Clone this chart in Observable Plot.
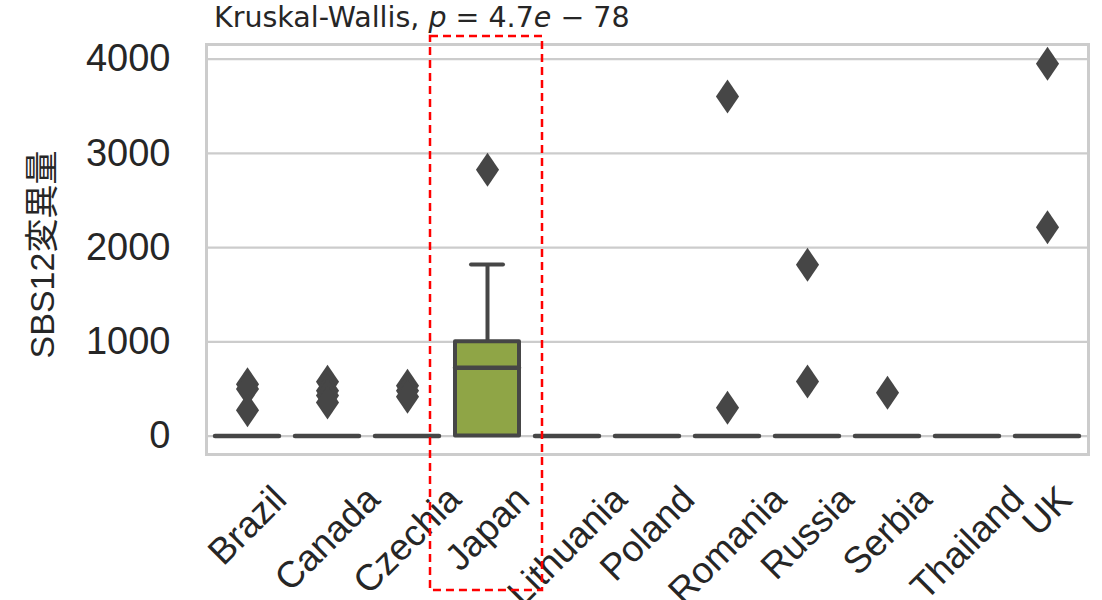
<!DOCTYPE html>
<html><head><meta charset="utf-8">
<script src="https://cdn.jsdelivr.net/npm/d3@7"></script>
<script src="https://cdn.jsdelivr.net/npm/@observablehq/plot@0.6"></script>
<style>
body{margin:0;background:#fff;}
#wrap{position:relative;width:1102px;height:600px;overflow:hidden;background:#fff;}
#title{position:absolute;left:214px;top:1px;font-family:"DejaVu Sans",sans-serif;font-size:28.5px;color:#262626;white-space:nowrap;z-index:2;}
#title i{font-style:italic;}
#chart{position:absolute;left:0;top:0;}
</style></head><body>
<div id="wrap"><div id="title">Kruskal-Wallis, <i>p</i> = 4.7<i>e</i> − 78</div><div id="chart"></div></div>
<script>
// ---- data ----
const countries = ["Brazil","Canada","Czechia","Japan","Lithuania","Poland","Romania","Russia","Serbia","Thailand","UK"];
const q1          = [0,0,0,0,   0,0,0,0,0,0,0];
const medians     = [0,0,0,724, 0,0,0,0,0,0,0];
const q3          = [0,0,0,1000,0,0,0,0,0,0,0];
const whiskerLow  = [0,0,0,0,   0,0,0,0,0,0,0];
const whiskerHigh = [0,0,0,1820,0,0,0,0,0,0,0];
const outlierCountry = ["Brazil","Brazil","Brazil","Canada","Canada","Canada","Canada","Czechia","Czechia","Czechia","Japan","Romania","Romania","Russia","Russia","Serbia","UK","UK"];
const outlierValue   = [550,500,274,575,480,430,356,533,480,416,2826,3604,299,1817,579,459,3951,2217];
const boxColors = ["#8fa546","#8fa546","#8fa546","#8fa546","#8fa546","#8fa546","#8fa546","#8fa546","#8fa546","#8fa546","#8fa546"];
const yTicks = [0,1000,2000,3000,4000];
const yLabel = "SBS12変異量";
const highlightCountry = "Japan";
const highlightRange = [-1640, 4240];

// ---- build tables ----
const boxes = countries.map((c,i)=>({country:c,q1:q1[i],median:medians[i],q3:q3[i],lo:whiskerLow[i],hi:whiskerHigh[i],color:boxColors[i]}));
const outliers = outlierCountry.map((c,i)=>({country:c,value:outlierValue[i]}));
const withWhisker = boxes.filter(d=>d.hi>d.q3);

const thinDiamond = {draw(ctx,size){const r=Math.sqrt(size/Math.PI);const w=r*0.68;ctx.moveTo(0,-r);ctx.lineTo(w,0);ctx.lineTo(0,r);ctx.lineTo(-w,0);ctx.closePath();}};

const dark = "#464646";
const xFont = 37;
const cv = document.createElement("canvas").getContext("2d");
cv.font = `${xFont}px "Liberation Sans"`;
const labelMarks = countries.map(c=>{
  const w = cv.measureText(c).width;
  const off = 25.5 + (w + xFont)*Math.SQRT1_2/2;
  return Plot.text([c],{x:d=>d,frameAnchor:"bottom",dy:off,rotate:-45,textAnchor:"middle",lineAnchor:"middle",fontSize:xFont,fill:"#262626"});
});

const chart = Plot.plot({
  width:1102, height:600,
  marginLeft:206, marginRight:14, marginTop:44, marginBottom:146,
  style:{fontFamily:'"Liberation Sans", Arial, sans-serif', color:"#262626", background:"transparent", overflow:"visible"},
  x:{domain:countries, padding:0, axis:null},
  y:{domain:[-196,4156], axis:null},
  marks:[
    Plot.ruleY(yTicks,{stroke:"#cccccc",strokeWidth:2.2}),
    Plot.frame({stroke:"#cccccc",strokeWidth:3}),
    Plot.axisY(yTicks,{tickSize:0,tickPadding:36,fontSize:38,tickFormat:d=>String(d),fill:"#262626"}),
    Plot.text([yLabel],{frameAnchor:"left",dx:-163,dy:5,rotate:-90,textAnchor:"middle",lineAnchor:"middle",fontSize:34,fontFamily:'"Liberation Sans","Noto Sans CJK JP",sans-serif',fill:"#262626"}),
    Plot.ruleX(withWhisker,{x:"country",y1:"q3",y2:"hi",stroke:dark,strokeWidth:4}),
    Plot.tickY(withWhisker,{x:"country",y:"hi",stroke:dark,strokeWidth:4,strokeLinecap:"round",insetLeft:24,insetRight:24}),
    Plot.barY(boxes,{x:"country",y1:"q1",y2:"q3",fill:"color",stroke:dark,strokeWidth:4,strokeLinejoin:"round",insetLeft:8,insetRight:8}),
    Plot.tickY(boxes,{x:"country",y:"median",stroke:dark,strokeWidth:4.5,strokeLinecap:"round",insetLeft:8,insetRight:8}),
    Plot.dot(outliers,{x:"country",y:"value",symbol:thinDiamond,r:17,fill:dark,stroke:"none"}),
    ...labelMarks,
    Plot.barY([{country:highlightCountry,lo:highlightRange[0],hi:highlightRange[1]}],{x:"country",y1:"lo",y2:"hi",fill:"none",stroke:"#ff0000",strokeWidth:2.5,strokeDasharray:"8,5",insetLeft:-17,insetRight:-15})
  ]
});
document.getElementById("chart").appendChild(chart);
</script>
</body></html>
